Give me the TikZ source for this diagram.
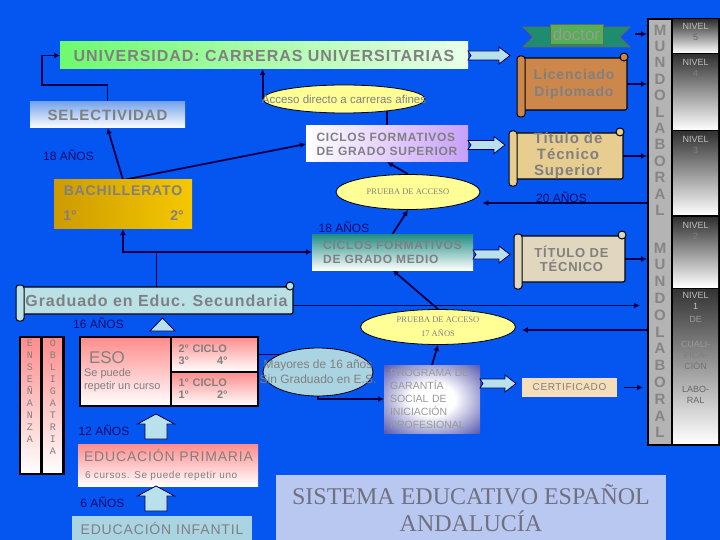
\documentclass[tikz,border=0pt]{standalone}
\usepackage{fontspec}
\setmainfont{Liberation Sans}
\newfontfamily\wide[LetterSpace=6]{Liberation Sans}
\newfontfamily\serifface{Liberation Serif}
\newfontfamily\monoface{Liberation Mono}
\usetikzlibrary{shapes.geometric,arrows.meta,calc}

\definecolor{bgblue}{RGB}{5,85,240}
\definecolor{navy}{RGB}{0,0,70}
\definecolor{agenavy}{RGB}{10,10,110}
\definecolor{txtgray}{RGB}{128,128,128}
\definecolor{unigreen}{RGB}{110,250,110}
\definecolor{selblue}{RGB}{120,165,235}
\definecolor{supviolet}{RGB}{200,160,250}
\definecolor{medteal}{RGB}{30,140,130}
\definecolor{bachgold}{RGB}{205,155,0}
\definecolor{bachyellow}{RGB}{245,200,0}
\definecolor{ovalyellow}{RGB}{255,255,150}
\definecolor{ovalblue}{RGB}{170,212,225}
\definecolor{arrowcyan}{RGB}{185,225,235}
\definecolor{wood}{RGB}{205,135,75}
\definecolor{parch}{RGB}{232,205,145}
\definecolor{linen}{RGB}{225,215,190}
\definecolor{gradcyan}{RGB}{185,225,230}
\definecolor{esopink}{RGB}{255,140,140}
\definecolor{pgsnavy}{RGB}{55,55,160}
\definecolor{certbeige}{RGB}{245,222,185}
\definecolor{sistblue}{RGB}{185,200,240}
\definecolor{sisttext}{RGB}{112,112,128}
\definecolor{laborgray}{RGB}{180,180,180}
\definecolor{ribbongreen}{RGB}{30,140,110}
\definecolor{docgreen}{RGB}{85,175,85}

\pgfdeclareradialshading{pgsglow}{\pgfpoint{0bp}{0bp}}{color(0bp)=(white); color(12bp)=(white);
  color(40bp)=(pgsnavy); color(50bp)=(pgsnavy)}

\newcommand\fsz[1]{\fontsize{#1}{#1}\selectfont}
\newcommand\rollup[2]{%
  \filldraw[fill=#2, draw=black, line width=1pt, rounded corners=3pt]
    ($(#1.north west)+(-4,-2)$) rectangle ($(#1.south west)+(4,7)$);
  \filldraw[fill=#2, draw=black, line width=1pt] ($(#1.north east)+(-3,-1)$) circle (4pt);}
\newcommand\blockarr[2]{%
  \filldraw[barrow] #1 ++(3,0) -- ++(-3,-4.5) -- ++(#2-11,0) -- ++(0,-4) -- ++(11,8.5)
    -- ++(-11,8.5) -- ++(0,-4) -- ++(-#2+11,0) -- cycle;}
\newcommand\uparr[1]{%
  \filldraw[barrow] #1 ++(-11,0) -- ++(0,-15) -- ++(-7.5,0) -- ++(18.5,-10) -- ++(18.5,10)
    -- ++(-7.5,0) -- ++(0,15) -- cycle;}

\pgfdeclarelayer{bg}
\pgfdeclarelayer{wires}
\pgfsetlayers{bg,wires,main}

\tikzset{
  box/.style={inner sep=0pt, outer sep=0pt, align=center, text=txtgray},
  conn/.style={draw=navy, line width=1.8pt},
  arr/.style={conn, -{Latex[length=6pt,width=6pt]}},
  oval/.style={ellipse, draw=black, line width=0.8pt, inner sep=0pt, align=center, text=txtgray},
  scroll/.style={box, draw=black, line width=1.2pt, rounded corners=2pt},
  frame/.style={draw=black, line width=2.5pt},
  barrow/.style={fill=arrowcyan, draw=navy, line width=0.8pt},
  age/.style={text=agenavy, font=\fsz{12}, inner sep=0pt},
  panel/.style={box, anchor=north west, minimum width=45, top color=black!80, bottom color=white},
  nivtext/.style={anchor=north, align=center, text=black!25, font=\fontsize{9}{11}\selectfont, inner sep=0pt},
  vletters/.style={anchor=north, align=center, text=txtgray, font=\monoface\fontsize{10}{12}\selectfont, inner sep=0pt},
  lletter/.style={text=black!48, font=\bfseries\fsz{15}, inner sep=0pt}
}

\begin{document}
\begin{tikzpicture}[x=1pt,y=-1pt]
  \begin{pgfonlayer}{bg}
    \fill[bgblue] (0,0) rectangle (720,540);
  \end{pgfonlayer}
  \useasboundingbox (0,0) rectangle (720,540);

  \node[box, minimum width=408, minimum height=27, left color=unigreen, right color=white!85!unigreen,
    font=\wide\bfseries\fsz{16}] (uni) at (264,55.5) {UNIVERSIDAD: CARRERAS UNIVERSITARIAS};
  \filldraw[fill=ribbongreen, draw=black!60, line width=0.8pt]
    (523,27) -- (630,27) -- (620,37) -- (630,47) -- (523,47) -- (533,37) -- cycle;
  \node[box, draw=black!60, fill=docgreen, minimum width=53, minimum height=20, text=black!40,
    font=\fsz{17}] (doc) at (576.5,34) {doctor};
  \node[scroll, fill=wood, minimum width=106, minimum height=52,
    font=\wide\bfseries\fontsize{14}{17}\selectfont] (lic) at (574,84) {Licenciado\\Diplomado};
  \rollup{lic}{wood}
  \node[oval, fill=ovalyellow, minimum width=162, minimum height=28, font=\fsz{11.5}] (acc)
    at (344,99) {\makebox[0pt]{Acceso directo a carreras afines}};
  \node[box, minimum width=155, minimum height=26, top color=selblue, bottom color=white,
    font=\wide\bfseries\fsz{15}] (sel) at (107.5,115) {SELECTIVIDAD};
  \node[age] (a18a) at (68.5,155) {18 AÑOS};
  \node[box, minimum width=162, minimum height=36, left color=white, right color=supviolet, align=left,
    font=\wide\bfseries\fontsize{12}{14}\selectfont] (sup) at (387,144) {CICLOS FORMATIVOS\\DE GRADO SUPERIOR};
  \node[scroll, fill=parch, minimum width=110, minimum height=46,
    font=\wide\bfseries\fontsize{15}{16}\selectfont] (tsup) at (568,156) {Título de\\Técnico\\Superior};
  \rollup{tsup}{parch}
  \node[oval, fill=ovalyellow, minimum width=144, minimum height=35, font=\serifface\fsz{8.5}] (pru)
    at (408,192) {PRUEBA DE ACCESO};
  \node[age] (a20) at (561.5,197) {20 AÑOS};

  \node[box, minimum width=138, minimum height=49, left color=bachgold, right color=bachyellow] (bach)
    at (123,204.5) {};
  \node[box, font=\wide\bfseries\fsz{14}] (bacht) at (123,191) {BACHILLERATO};
  \node[box, font=\bfseries\fsz{14}] (bach1) at (70,216) {1°};
  \node[box, font=\bfseries\fsz{14}] (bach2) at (177,216) {2°};
  \node[age] (a18b) at (344,227) {18 AÑOS};
  \node[box, minimum width=161, minimum height=36, top color=medteal, bottom color=white, align=left,
    font=\wide\bfseries\fontsize{12}{14}\selectfont] (med) at (392.5,252) {CICLOS FORMATIVOS\\DE GRADO MEDIO};
  \node[scroll, fill=linen, minimum width=107, minimum height=46,
    font=\wide\bfseries\fontsize{13}{14}\selectfont] (tt) at (571.5,259) {TÍTULO DE\\TÉCNICO};
  \rollup{tt}{linen}

  \node[scroll, fill=gradcyan, minimum width=273, minimum height=27, font=\wide\bfseries\fsz{16}] (grad)
    at (156.5,300.5) {Graduado en Educ. Secundaria};
  \rollup{grad}{gradcyan}
  \node[age] (a16) at (98.5,323) {16 AÑOS};
  \node[oval, fill=ovalyellow, minimum width=155, minimum height=35,
    font=\serifface\fontsize{8.5}{14}\selectfont] (pru17) at (438,327) {PRUEBA DE ACCESO\\17 AÑOS};

  \node[box, minimum width=20, minimum height=137, top color=esopink, bottom color=white] (ens) at (30,405.5) {};
  \node[box, minimum width=21, minimum height=137, top color=esopink, bottom color=white] (obl) at (53,405.5) {};
  \draw[frame] (ens.north west) rectangle (obl.south east);
  \draw[frame] ($(ens.north east)!.5!(obl.north west)$) -- ($(ens.south east)!.5!(obl.south west)$);
  \node[vletters] (enst) at ($(ens.north)+(0,3)$) {E\\N\\S\\E\\Ñ\\A\\N\\Z\\A};
  \node[vletters] (oblt) at ($(obl.north)+(0,3)$) {O\\B\\L\\I\\G\\A\\T\\R\\I\\A};

  \node[box, minimum width=90, minimum height=69, top color=esopink, bottom color=white] (esol) at (125,371.5) {};
  \node[box, minimum width=87, minimum height=35, top color=esopink, bottom color=white, align=left,
    text width=72, font=\bfseries\fontsize{11}{12}\selectfont] (c2) at (214.5,354.5) {2° CICLO\\3°\hspace{28pt}4°};
  \node[box, minimum width=87, minimum height=34, top color=esopink, bottom color=white, align=left,
    text width=72, font=\bfseries\fontsize{11}{12}\selectfont] (c1) at (214.5,389) {1° CICLO\\1°\hspace{28pt}2°};
  \draw[frame] (esol.north west) rectangle (c1.south east);
  \draw[frame] (c2.north west) -- (c1.south west);
  \draw[frame] (c2.south west) -- (c2.south east);
  \node[box, font=\fsz{17}] (esot) at (107,358) {ESO};
  \node[box, anchor=north west, align=left, font=\fontsize{11}{13}\selectfont] (esor) at (84,369)
    {Se puede\\repetir un curso};

  \node[oval, fill=ovalblue, minimum width=110, minimum height=48, font=\fontsize{12}{15}\selectfont] (may)
    at (318,372) {\makebox[0pt]{Mayores de 16 años}\\\makebox[0pt]{Sin Graduado en E.S.}};
  \node[box, minimum width=96, minimum height=68, shading=pgsglow, text=black!40,
    align=left, text width=84, font=\fontsize{10.5}{13}\selectfont] (pgs) at (432,399)
    {PROGRAMA DE\\GARANTÍA\\SOCIAL DE\\INICIACIÓN\\PROFESIONAL};
  \node[box, minimum width=95, minimum height=19, fill=certbeige, font=\wide\fsz{10}] (cert)
    at (569.5,387.5) {CERTIFICADO};

  \node[age] (a12) at (104,430) {12 AÑOS};
  \node[box, minimum width=180, minimum height=42, top color=esopink, bottom color=white] (prim) at (168,465) {};
  \node[box, anchor=west, font=\wide\fsz{14}] (primt) at (84,455) {EDUCACIÓN PRIMARIA};
  \node[box, anchor=west, font=\wide\fsz{10}] (primr) at (85,476) {6 cursos. Se puede repetir uno};
  \node[age] (a6) at (102.5,502) {6 AÑOS};
  \node[box, minimum width=180, minimum height=24, fill=ovalblue, font=\wide\fsz{14}] (inf) at (162,528)
    {EDUCACIÓN INFANTIL};
  \node[box, minimum width=390, minimum height=66, fill=sistblue, text=sisttext,
    font=\serifface\fontsize{24}{27}\selectfont] (sist) at (471,508) {SISTEMA EDUCATIVO ESPAÑOL\\ANDALUCÍA};

  \node[box, fill=black, anchor=north west, minimum width=73, minimum height=428] (labor) at (647,18) {};
  \node[box, fill=laborgray, anchor=north west, minimum width=22, minimum height=424] (lcol) at (649,20) {};
  \foreach \l [count=\i] in {M,U,N,D,O,L,A,B,O,R,A,L} {
    \node[lletter] (ma\i) at (660,{30+(\i-1)*16.4}) {\l};
    \node[lletter] (mb\i) at (660,{248+(\i-1)*16.8}) {\l};
  }
  \node[panel, minimum height=33] (n5) at (673,20) {};
  \node[panel, minimum height=75] (n4) at (673,55) {};
  \node[panel, minimum height=83] (n3) at (673,132) {};
  \node[panel, minimum height=69] (n2) at (673,218) {};
  \node[panel, minimum height=154] (n1) at (673,289) {};
  \node[nivtext] (t5) at ($(n5.north)+(0,3)$) {NIVEL\\\textcolor{black!60}{5}};
  \node[nivtext] (t4) at ($(n4.north)+(0,4)$) {NIVEL\\\textcolor{black!50}{4}};
  \node[nivtext] (t3) at ($(n3.north)+(0,4)$) {NIVEL\\\textcolor{black!50}{3}};
  \node[nivtext] (t2) at ($(n2.north)+(0,4)$) {NIVEL\\\textcolor{black!50}{2}};
  \node[nivtext] (t1) at ($(n1.north)+(0,3)$) {NIVEL\\1\\[2pt]\textcolor{black!40}{DE}\\[14pt]
    \textcolor{black!40}{CUALI-}\\\textcolor{black!50}{FICA-}\\\textcolor{black!55}{CIÓN}\\[12pt]
    \textcolor{black!60}{LABO-}\\\textcolor{black!60}{RAL}};

  \blockarr{(uni.east)}{42}
  \blockarr{($(sup.east)+(0,1)$)}{37}
  \blockarr{($(med.east)+(0,2.5)$)}{37}
  \blockarr{($(pgs.east)+(0,-15.5)$)}{36}
  \uparr{($(prim.north)+(-12,-5)$)}
  \uparr{($(inf.north)+(-6,-5)$)}
  \filldraw[barrow] ($(grad.south)+(-6.5,17)$) -- ++(25,0) -- ++(-12.5,-13) -- cycle;

  \begin{pgfonlayer}{wires}
    \coordinate (selturn) at (42,85);
    \coordinate (split) at (156.5,252);
    \draw[arr] (sel.north) |- (selturn) |- (uni.west);
    \draw[arr] (acc.west) -- (acc.west |- uni.south);
    \draw[conn] (sup.north) -- (sup.north |- acc.center);
    \draw[arr] (bach.north) -- (sel.south);
    \draw[arr] (bach.north) -- (sup.west);
    \draw[arr] (pru.north) -- (sup.south);
    \draw[arr] (med.north) -- (pru.south);
    \draw[conn] (grad.north) -- (split);
    \draw[arr] (split) -| (bach.south);
    \draw[arr] (split) -- (med.west);
    \draw[arr] (pru17.north) -- (med.south);
    \draw[arr] (pgs.north) -- (pru17.south);
    \draw[conn] (c2.east) -- (c2.east -| may.center);
    \draw[arr] (may.south) |- (pgs.west);
    \draw[arr] ($(doc.east)+(32,0)$) -- (doc.east -| labor.west);
    \draw[arr] (lic.east) -- (lic.east -| labor.west);
    \draw[arr] (tsup.east) -- (tsup.east -| labor.west);
    \draw[arr] (tt.east) -- (tt.east -| labor.west);
    \draw[arr] ($(grad.east)+(0,5)$) -- ($(grad.east -| labor.west)+(-7,5)$);
    \draw[arr] ($(pru.east -| labor.west)+(0,11)$) -- ($(pru.east)+(2,11)$);
    \draw[arr] ($(pru17.east -| labor.west)+(0,3)$) -- ($(pru17.east)+(6,3)$);
    \draw[arr] ($(cert.east)+(7,0)$) -- ($(cert.east -| labor.west)+(-4,0)$);
  \end{pgfonlayer}
\end{tikzpicture}
\end{document}
